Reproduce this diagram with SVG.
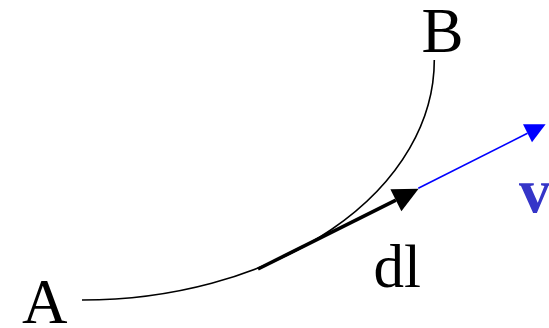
<svg xmlns="http://www.w3.org/2000/svg" width="549" height="328" viewBox="0 0 549 328">
  <style>
    .lbl { font-family: "Liberation Serif", "Times New Roman", serif; fill: #000; }
    .curve { fill: none; stroke: #000; stroke-width: 1.6; }
    .dl { fill: none; stroke: #000; stroke-width: 3.6; }
    .vec { fill: none; stroke: #0000ff; stroke-width: 1.6; }
  </style>
  <defs>
    <marker id="headBlack" markerUnits="userSpaceOnUse" viewBox="0 -14 28 28" markerWidth="28" markerHeight="28" refX="0" refY="0" orient="auto" overflow="visible">
      <path d="M25.4,0 L0,-12.3 L0,12.3 Z" fill="#000"/>
    </marker>
    <marker id="headBlue" markerUnits="userSpaceOnUse" viewBox="0 -11 22 22" markerWidth="22" markerHeight="22" refX="0" refY="0" orient="auto" overflow="visible">
      <path d="M20.3,0 L0,-10 L0,10 Z" fill="#0000ff"/>
    </marker>
  </defs>
  <g id="connectors">
    <path id="path-AB" class="curve" d="M82,300 A352,240 0 0 0 434.3,60"/>
    <path id="dl-vector" class="dl" d="M258,269 L395.9,200.2" marker-end="url(#headBlack)"/>
    <path id="v-vector" class="vec" d="M418.3,188.3 L527.5,133.3" marker-end="url(#headBlue)"/>
  </g>
  <g id="node-A"><text class="lbl" x="22" y="323" font-size="63">A</text></g>
  <g id="node-B"><text class="lbl" x="421.5" y="52" font-size="63">B</text></g>
  <g id="label-dl"><text class="lbl" x="373.5" y="286.7" font-size="61">dl</text></g>
  <g id="label-v"><text x="519" y="211.7" font-size="63" font-weight="bold" font-family="'Liberation Serif', 'Times New Roman', serif" fill="#3535c8">v</text></g>
</svg>
